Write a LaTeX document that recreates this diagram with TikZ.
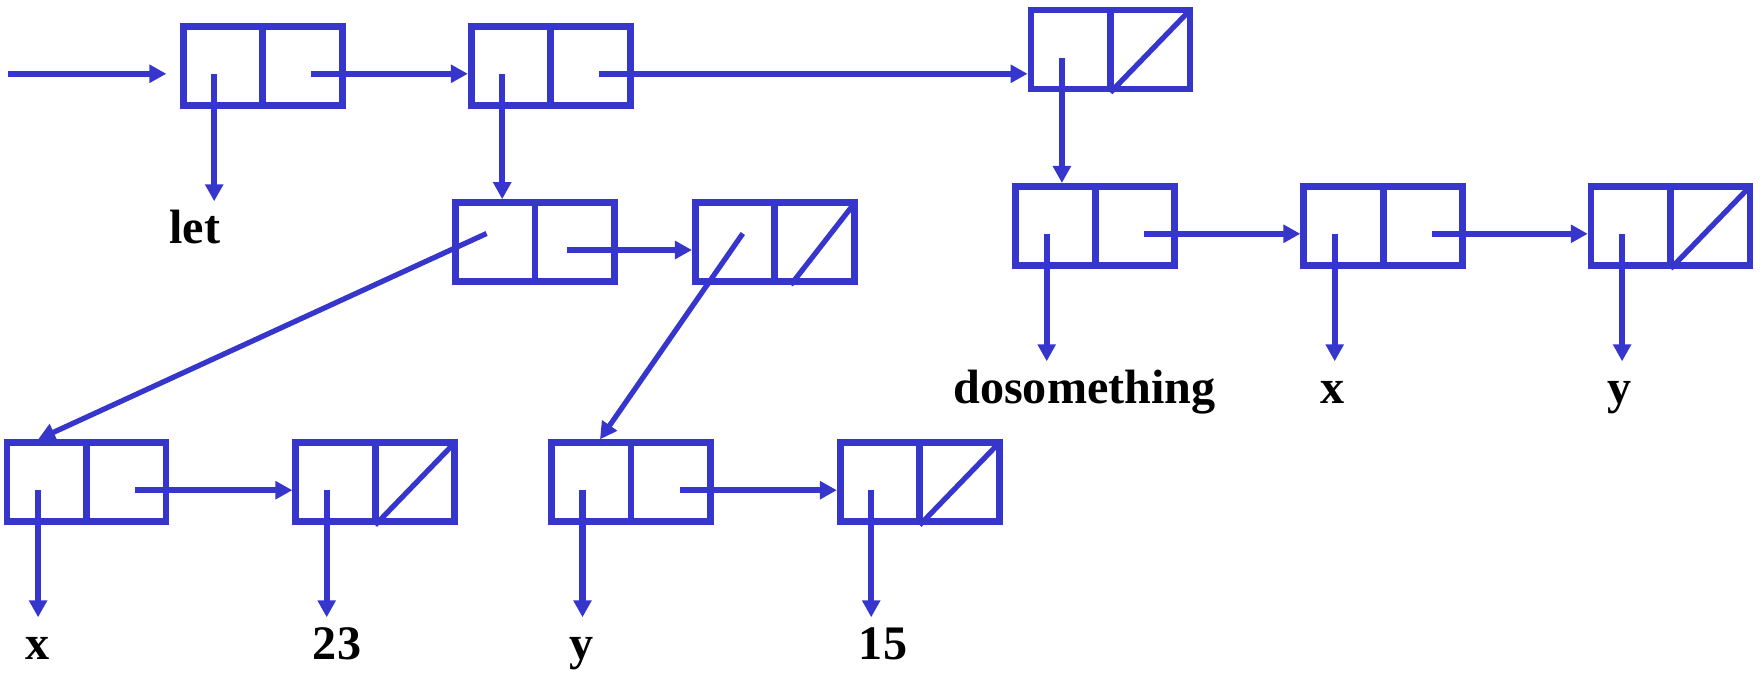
\documentclass[tikz,border=0pt]{standalone}
\usepackage{fontspec}
\setmainfont{Liberation Serif}
\usetikzlibrary{arrows.meta}
\definecolor{consblue}{RGB}{54,54,204}

\begin{document}
\begin{tikzpicture}[
    cell/.style={draw=consblue, line width=1.9pt, minimum width=1.59cm, minimum height=0.79cm, inner sep=0pt},
    ptr/.style={color=consblue, line width=1.8pt, -{Triangle[length=0.17cm,width=0.175cm]}},
    slant/.style={ptr, line width=1.5pt},
    lbl/.style={font=\bfseries\fontsize{13.7}{16}\selectfont, text height=0.42cm, inner sep=0pt, outer sep=0pt, anchor=base}
]
    \useasboundingbox (0,0) rectangle (17.64,6.75);

    \node [cell] (top1) at (2.627,6.092) {};
    \node [cell] (top2) at (5.507,6.092) {};
    \node [cell] (top3) at (11.104,6.254) {};
    \node [cell] (bind1) at (5.351,4.33) {};
    \node [cell] (bind2) at (7.748,4.33) {};
    \node [cell] (call1) at (10.952,4.492) {};
    \node [cell] (call2) at (13.832,4.492) {};
    \node [cell] (call3) at (16.706,4.492) {};
    \node [cell] (xname) at (0.866,1.928) {};
    \node [cell] (xval) at (3.752,1.928) {};
    \node [cell] (yname) at (6.31,1.928) {};
    \node [cell] (yval) at (9.197,1.928) {};

    \foreach \c in {top1,top2,top3,bind1,bind2,call1,call2,call3,xname,xval,yname,yval} {
        \draw [consblue, line width=1.9pt] (\c.north) -- (\c.south);
        \coordinate (\c-car) at ([shift={(-0.485,-0.08)}]\c.center);
        \coordinate (\c-cdr) at ([shift={(0.485,-0.08)}]\c.center);
    }
    \foreach \c in {top3,call3,xval,yval}
        \draw [consblue, line width=1.5pt, shorten >=1.2pt] (\c.south) -- (\c.north east);
    \draw [consblue, line width=1.5pt, shorten >=1.2pt] ([xshift=0.16cm]bind2.south) -- (bind2.north east);

    \node [lbl] (let) at (1.95,4.317) {let};
    \node [lbl] (dosom) at (10.845,2.717) {dosomething};
    \node [lbl] (cx) at (13.33,2.717) {x};
    \node [lbl] (cy) at (16.20,2.717) {y};
    \node [lbl] (vx) at (0.375,0.157) {x};
    \node [lbl] (v23) at (3.37,0.157) {23};
    \node [lbl] (vy) at (5.82,0.157) {y};
    \node [lbl] (v15) at (8.83,0.157) {15};

    \coordinate (start) at (0.08,6.012);
    \draw [ptr, shorten >=0.135cm] (start) -- (start -| top1.west);
    \draw [ptr] (top1-cdr) -- (top1-cdr -| top2.west);
    \draw [ptr] (top2-cdr) -- (top2-cdr -| top3.west);
    \draw [ptr] (top1-car) -- (top1-car |- let.north);
    \draw [ptr] (top2-car) -- (top2-car |- bind1.north);
    \draw [ptr] (top3-car) -- (top3-car |- call1.north);

    \coordinate (bind1-cdr) at ([shift={(0.32,-0.08)}]bind1.center);
    \draw [ptr] (bind1-cdr) -- (bind1-cdr -| bind2.west);
    \draw [slant] ([shift={(-0.485,0.085)}]bind1.center) -- (xname-car |- xname.north);
    \draw [slant] ([shift={(-0.32,0.085)}]bind2.center) -- ([xshift=-0.31cm]yname.north);

    \draw [ptr] (call1-car) -- (call1-car |- dosom.north);
    \draw [ptr] (call1-cdr) -- (call1-cdr -| call2.west);
    \draw [ptr] (call2-car) -- (call2-car |- cx.north);
    \draw [ptr] (call2-cdr) -- (call2-cdr -| call3.west);
    \draw [ptr] (call3-car) -- (call3-car |- cy.north);

    \draw [ptr] (xname-car) -- (xname-car |- vx.north);
    \draw [ptr] (xname-cdr) -- (xname-cdr -| xval.west);
    \draw [ptr] (xval-car) -- (xval-car |- v23.north);
    \draw [ptr] (yname-car) -- (yname-car |- vy.north);
    \draw [ptr] (yname-cdr) -- (yname-cdr -| yval.west);
    \draw [ptr] (yval-car) -- (yval-car |- v15.north);
\end{tikzpicture}
\end{document}
